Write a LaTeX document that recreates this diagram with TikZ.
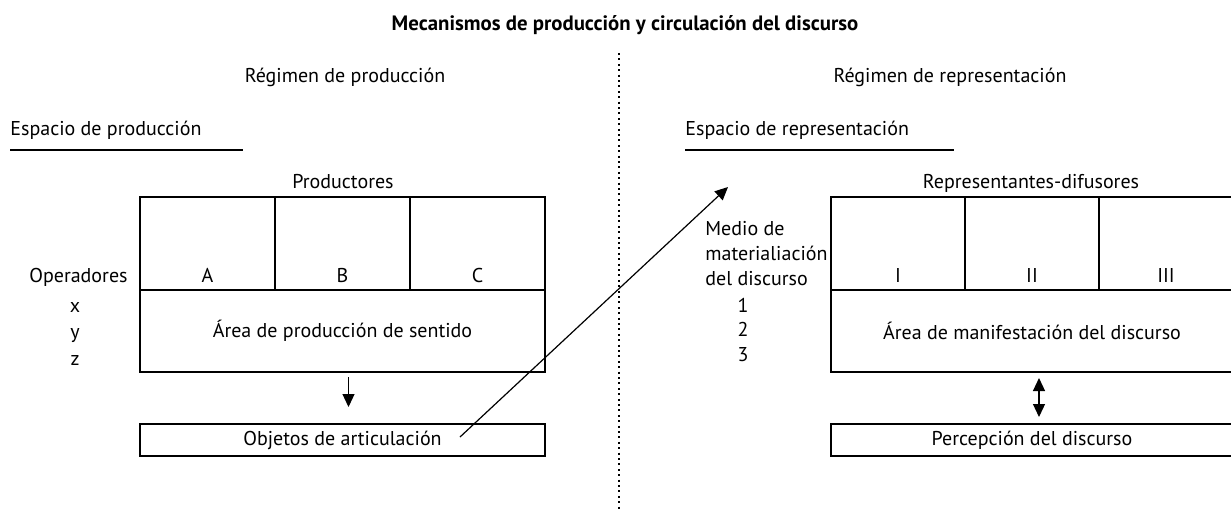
\documentclass[tikz,border=0pt]{standalone}
\usepackage{fontspec}
\setmainfont{PT Sans}
\usetikzlibrary{arrows.meta}

\begin{document}
\begin{tikzpicture}[x=0.5pt,y=-0.5pt,
  font=\fontsize{10}{12.5}\selectfont,
  txt/.style={inner sep=0pt,text height=1.6ex,text depth=.45ex},
  cell/.style={draw,line width=.6pt,inner sep=0pt,outer sep=0pt,minimum height=46.5pt},
  area/.style={draw,line width=.6pt,inner sep=0pt,outer sep=0pt,minimum height=41pt},
  strip/.style={draw,line width=.6pt,inner sep=0pt,outer sep=0pt,minimum height=16pt},
  arr/.style={line width=.6pt,-{Triangle[length=6.5pt,width=6pt]}},
  darr/.style={line width=.6pt,{Triangle[length=6.5pt,width=6pt]}-{Triangle[length=6.5pt,width=6pt]}}]
\clip (0,0) rectangle (1231,510);
%================================================================
%	Title and regimes
\node[txt,font=\fontsize{10.4}{12.5}\selectfont\bfseries] (title) at (625,25) {Mecanismos de producción y circulación del discurso};
\node[txt] (regprod) at (345,77) {Régimen de producción};
\node[txt] (regrep) at (950,77) {Régimen de representación};
\coordinate (divtop) at (619,53);
\coordinate (divbot) at (619,512);
\draw[line width=1pt,dash pattern=on 1pt off 1.7pt] (divtop) -- (divbot);
%----------------------------------------------------------------
\node[txt,anchor=west] (espprod) at (10,130) {Espacio de producción};
\node[txt,anchor=west] (esprep) at (685,130) {Espacio de representación};
\draw[line width=.6pt] (10,150) -- (243,150);
\draw[line width=.6pt] (685,150) -- (954,150);
%================================================================
%	Production side
\node[txt] (productores) at (343,183) {Productores};
\node[cell,minimum width=67.5pt,anchor=north west] (cA) at (140,197) {};
\node[cell,minimum width=67.5pt,anchor=north west] (cB) at (cA.north east) {};
\node[cell,minimum width=67.5pt,anchor=north west] (cC) at (cB.north east) {};
\node[txt] at ([yshift=6.5pt]cA.south) {A};
\node[txt] at ([yshift=6.5pt]cB.south) {B};
\node[txt] at ([yshift=6.5pt]cC.south) {C};
\node[area,minimum width=202.5pt,anchor=north west] (prodarea) at (cA.south west) {Área de producción de sentido};
\node[strip,minimum width=202.5pt,anchor=north west] (objetos) at (140,424) {Objetos de articulación};
%----------------------------------------------------------------
\node[txt,anchor=east] (operadores) at (128,277) {Operadores};
\node[txt] (opx) at (75,307) {x};
\node[txt] (opy) at (75,333) {y};
\node[txt] (opz) at (75,360) {z};
%----------------------------------------------------------------
\draw[arr] ([xshift=3pt,yshift=-2.5pt]prodarea.south) -- ([xshift=3pt,yshift=8.5pt]objetos.north);
\coordinate (arttail) at (460,437);
\coordinate (arthead) at (728,187);
\draw[arr] (arttail) -- (arthead);
%================================================================
%	Representation side
\node[txt] (difusores) at (1031,183) {Representantes-difusores};
\node[cell,minimum width=67pt,anchor=north west] (cI) at (831,197) {};
\node[cell,minimum width=67pt,anchor=north west] (cII) at (cI.north east) {};
\node[cell,minimum width=67pt,anchor=north west] (cIII) at (cII.north east) {};
\node[txt] at ([yshift=6.5pt]cI.south) {I};
\node[txt] at ([yshift=6.5pt]cII.south) {II};
\node[txt] at ([yshift=6.5pt]cIII.south) {III};
\node[area,minimum width=201pt,anchor=north west] (reparea) at (cI.south west) {Área de manifestación del discurso};
\node[strip,minimum width=201pt,anchor=north west] (percepcion) at (831,424) {Percepción del discurso};
%----------------------------------------------------------------
\node[inner sep=0pt,anchor=west,align=left] (medio) at (705,254) {Medio de\\materialiación\\del discurso};
\node[txt] (med1) at (743,307) {1};
\node[txt] (med2) at (743,331) {2};
\node[txt] (med3) at (743,356) {3};
%----------------------------------------------------------------
\draw[darr] ([xshift=3.5pt,yshift=-3pt]reparea.south) -- ([xshift=3.5pt,yshift=3.5pt]percepcion.north);
%================================================================
\end{tikzpicture}
\end{document}
